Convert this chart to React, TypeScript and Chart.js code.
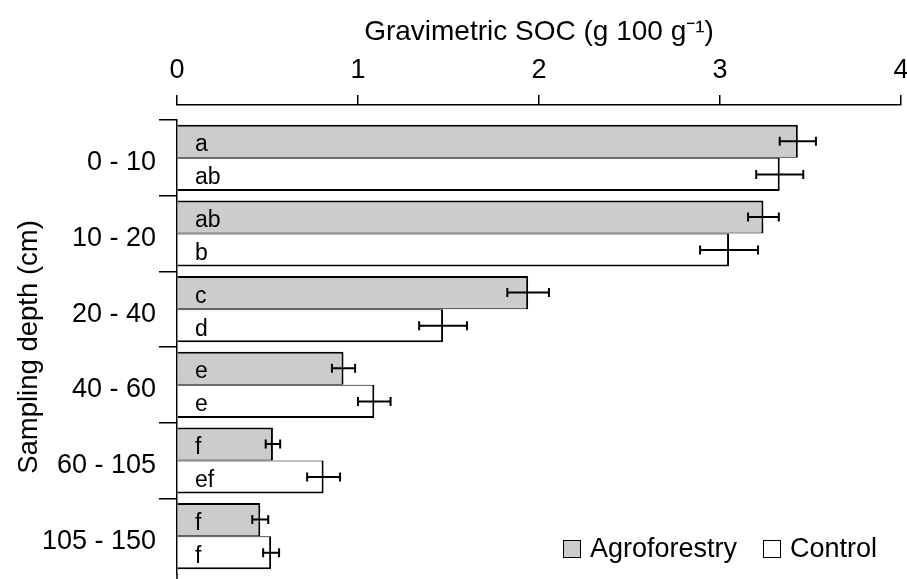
import React, { useEffect, useRef } from 'react';
import { Chart, registerables } from 'chart.js';

Chart.register(...registerables);

const depthLabels = ['0 - 10', '10 - 20', '20 - 40', '40 - 60', '60 - 105', '105 - 150'];
const agroforestry = [3.43, 3.24, 1.94, 0.92, 0.53, 0.46];
const agroforestryErr = [0.1, 0.085, 0.115, 0.064, 0.04, 0.044];
const control = [3.33, 3.05, 1.47, 1.09, 0.81, 0.52];
const controlErr = [0.13, 0.16, 0.132, 0.09, 0.091, 0.044];
const agroforestryLetters = ['a', 'ab', 'c', 'e', 'f', 'f'];
const controlLetters = ['ab', 'b', 'd', 'e', 'ef', 'f'];
const seriesNames = ['Agroforestry', 'Control'];
const xTitle = 'Gravimetric SOC (g 100 g\u207B\u00B9)';
const yTitle = 'Sampling depth (cm)';

const FONT = "'Liberation Sans', Arial, Helvetica, sans-serif";

const shiftPlugin = {
  id: 'shiftY',
  afterLayout(chart: any) {
    const y = chart.scales.y;
    y.top = chart.chartArea.top + 15;
    y.configure();
  },
};

const decorPlugin = {
  id: 'decor',
  afterDatasetsDraw(chart: any) {
    const ctx = chart.ctx;
    const xs = chart.scales.x;
    ctx.save();
    chart.data.datasets.forEach((ds: any, di: number) => {
      const meta = chart.getDatasetMeta(di);
      meta.data.forEach((bar: any, i: number) => {
        const v = ds.data[i];
        const e = ds.errors[i];
        const y = bar.y;
        const x1 = xs.getPixelForValue(v - e);
        const x2 = xs.getPixelForValue(v + e);
        ctx.strokeStyle = '#000';
        ctx.lineWidth = 2;
        ctx.beginPath();
        ctx.moveTo(x1, y);
        ctx.lineTo(x2, y);
        ctx.moveTo(x1, y - 4.5);
        ctx.lineTo(x1, y + 4.5);
        ctx.moveTo(x2, y - 4.5);
        ctx.lineTo(x2, y + 4.5);
        ctx.stroke();
        ctx.fillStyle = '#000';
        ctx.font = `23px ${FONT}`;
        ctx.textAlign = 'left';
        ctx.textBaseline = 'alphabetic';
        ctx.fillText(ds.letters[i], xs.getPixelForValue(0) + 18, y + 10);
      });
    });
    ctx.restore();
  },
  afterDraw(chart: any) {
    const ctx = chart.ctx;
    const ys = chart.scales.y;
    const area = chart.chartArea;
    ctx.save();
    // extend the y axis line to the bottom edge
    ctx.strokeStyle = '#000';
    ctx.lineWidth = 1.5;
    ctx.beginPath();
    ctx.moveTo(ys.right, ys.bottom);
    ctx.lineTo(ys.right, chart.height);
    ctx.stroke();
    // legend
    const items = chart.data.datasets.map((d: any) => ({ label: d.label, fill: d.backgroundColor }));
    const positions = [area.right - 338, area.right - 138];
    const cy = 549;
    ctx.font = `27px ${FONT}`;
    ctx.textBaseline = 'middle';
    ctx.textAlign = 'left';
    items.forEach((it: any, i: number) => {
      const x = positions[i];
      ctx.fillStyle = it.fill;
      ctx.fillRect(x, cy - 9, 18, 18);
      ctx.strokeStyle = '#000';
      ctx.lineWidth = 1;
      ctx.strokeRect(x + 0.5, cy - 8.5, 17, 17);
      ctx.fillStyle = '#000';
      ctx.fillText(it.label, x + 27, cy + 1);
    });
    ctx.restore();
  },
};

export default function App() {
  const ref = useRef<HTMLCanvasElement>(null);
  useEffect(() => {
    if (!ref.current) return;
    const chart = new Chart(ref.current, {
      type: 'bar',
      data: {
        labels: depthLabels,
        datasets: [
          {
            label: seriesNames[0],
            data: agroforestry,
            errors: agroforestryErr,
            letters: agroforestryLetters,
            backgroundColor: '#cccccc',
            borderColor: '#000000',
            borderWidth: { top: 2, right: 2, bottom: 1, left: 0 },
            borderSkipped: false,
            categoryPercentage: 0.875,
            barPercentage: 1,
          } as any,
          {
            label: seriesNames[1],
            data: control,
            errors: controlErr,
            letters: controlLetters,
            backgroundColor: '#ffffff',
            borderColor: '#000000',
            borderWidth: { top: 1, right: 2, bottom: 2, left: 0 },
            borderSkipped: false,
            categoryPercentage: 0.875,
            barPercentage: 1,
          } as any,
        ],
      },
      options: {
        indexAxis: 'y',
        responsive: false,
        animation: false,
        events: [],
        layout: { padding: { top: 0, left: 0, right: 6, bottom: 5 } },
        plugins: {
          legend: { display: false },
          tooltip: { enabled: false },
        },
        scales: {
          x: {
            type: 'linear',
            position: 'top',
            min: 0,
            max: 4,
            afterFit: (s: any) => {
              s.height = 105;
              s.paddingLeft = 0;
              s.paddingRight = 0;
            },
            ticks: {
              stepSize: 1,
              color: '#000',
              padding: 8,
              maxRotation: 0,
              font: { size: 27, family: FONT },
            },
            grid: {
              drawOnChartArea: false,
              tickLength: 10,
              color: '#000',
              lineWidth: 1.5,
            },
            border: { color: '#000', width: 1.5 },
            title: {
              display: true,
              text: xTitle,
              color: '#000',
              font: { size: 28, family: FONT },
              padding: { top: 15, bottom: 0 },
            },
          },
          y: {
            type: 'category',
            position: 'left',
            offset: true,
            afterFit: (s: any) => {
              s.width = 177;
              s.paddingTop = 0;
              s.paddingBottom = 0;
            },
            ticks: {
              color: '#000',
              padding: 3,
              labelOffset: 5,
              font: { size: 27, family: FONT },
            },
            grid: {
              offset: true,
              drawOnChartArea: false,
              tickLength: 18,
              lineWidth: 1.5,
              tickColor: (c: any) => (c.type === 'tick' ? '#000' : 'rgba(0,0,0,0)'),
              color: '#000',
            },
            border: { color: '#000', width: 1.5 },
            title: {
              display: true,
              text: yTitle,
              color: '#000',
              font: { size: 27.5, family: FONT },
              padding: { top: 13, bottom: 0 },
            },
          },
        },
      } as any,
      plugins: [shiftPlugin, decorPlugin],
    });
    return () => chart.destroy();
  }, []);

  return (
    <div style={{ position: 'fixed', left: 0, top: 0, width: 907, height: 579, background: '#fff' }}>
      <canvas ref={ref} width={907} height={579} />
    </div>
  );
}
